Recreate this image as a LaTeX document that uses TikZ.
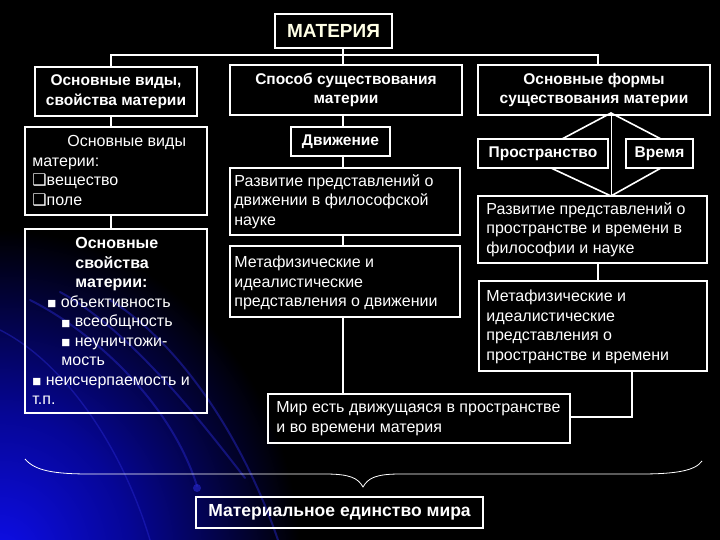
\documentclass[tikz,border=0pt]{standalone}
\usepackage{fontspec}
\setmainfont{Liberation Sans}
\newfontfamily\dejavu{DejaVu Sans}
\usetikzlibrary{calc}
\definecolor{glow}{RGB}{14,14,235}
\definecolor{glowmid}{RGB}{6,6,150}
\definecolor{streak}{RGB}{40,40,210}
\definecolor{cream}{RGB}{255,255,230}
\pgfdeclareradialshading{blueglow}{\pgfpoint{0bp}{0bp}}{color(0bp)=(glow); color(11bp)=(glowmid); color(25bp)=(black); color(50bp)=(black)}
\newcommand{\bul}{{\dejavu\fontsize{9.5}{9.5}\selectfont\raisebox{0.5pt}{■}}}
\newcommand{\hsq}{{\dejavu\fontsize{16}{16}\selectfont ❑}}
\begin{document}
\begin{tikzpicture}[x=1pt,y=-1pt,
  box/.style={draw=white,line width=1.6pt,inner sep=0pt,text=white},
  ln/.style={draw=white,line width=1.6pt},
  thin/.style={draw=white,line width=0.8pt},
  bt/.style={font=\fontsize{15.5}{19.5}\selectfont\bfseries,align=center},
  rt/.style={font=\fontsize{16}{19.5}\selectfont,text=white,align=left,inner sep=0pt,anchor=west},
  st/.style={draw=streak,line width=2pt,opacity=0.45,line cap=round}]
\useasboundingbox (0,0) rectangle (720,540);
\fill[black] (0,0) rectangle (720,540);
\begin{scope}
  \clip (0,0) rectangle (720,540);
  \shade[shading=blueglow] (0,560) ellipse [x radius=300, y radius=330];
  \draw[st] (30,300) .. controls (90,330) and (170,400) .. (197,486);
  \fill[streak,opacity=0.6] (197,488) circle [radius=4];
  \draw[st] (60,292) .. controls (130,330) and (200,420) .. (245,478);
  \draw[st] (110,300) .. controls (175,340) and (240,430) .. (278,540);
  \draw[st,line width=1.4pt] (0,330) .. controls (60,360) and (120,440) .. (150,540);
\end{scope}

% boxes
\node[box,bt,text=cream,font=\fontsize{19}{21}\selectfont\bfseries,minimum width=117,minimum height=34] (mat) at (333.5,31) {МАТЕРИЯ};
\node[box,bt,minimum width=162,minimum height=49] (vid) at (116,91.5) {Основные виды,\\свойства материи};
\node[box,bt,minimum width=232,minimum height=50] (spos) at (346,90) {Способ существования\\материи};
\node[box,bt,minimum width=232,minimum height=50] (form) at (594,90) {Основные формы\\существования материи};

\node[box,minimum width=182,minimum height=88] (vidmat) at (116,171) {};
\node[rt] (vidmat-t) at ($(vidmat.west)+(8,0)$) {\hspace*{35pt}Основные виды\\материи:\\\hsq вещество\\\hsq поле};

\node[box,minimum width=182,minimum height=184] (svoj) at (116,321) {};
\node[rt] (svoj-t) at ($(svoj.west)+(8,0)$) {\hspace*{43pt}\textbf{Основные}\\\hspace*{43pt}\textbf{свойства}\\\hspace*{43pt}\textbf{материи:}\\\hspace*{15pt}\bul\ объективность\\\hspace*{29pt}\bul\ всеобщность\\\hspace*{29pt}\bul\ неуничтожи-\\\hspace*{29pt}мость\\\bul\ неисчерпаемость и\\т.п.};

\node[box,bt,minimum width=99,minimum height=29] (dv) at (340.5,141.5) {Движение};
\node[box,minimum width=230,minimum height=67] (razv1) at (345,201.5) {};
\node[rt] (razv1-t) at ($(razv1.west)+(5,0)$) {Развитие представлений о\\движении в философской\\науке};
\node[box,minimum width=230,minimum height=71] (meta1) at (345,281.5) {};
\node[rt] (meta1-t) at ($(meta1.west)+(5,1.5)$) {Метафизические и\\идеалистические\\представления о движении};

\node[box,bt,minimum width=130,minimum height=29] (pr) at (543,153.5) {Пространство};
\node[box,bt,minimum width=67,minimum height=29] (vr) at (659.5,153.5) {Время};
\node[box,minimum width=229,minimum height=67] (razv2) at (592.5,229.5) {};
\node[rt] (razv2-t) at ($(razv2.west)+(9,0)$) {Развитие представлений о\\пространстве и времени в\\философии и науке};
\node[box,minimum width=228,minimum height=90] (meta2) at (593,326) {};
\node[rt] (meta2-t) at ($(meta2.west)+(8,1)$) {Метафизические и\\идеалистические\\представления о\\пространстве и времени};

\node[box,minimum width=302,minimum height=49] (mir) at (419,418.5) {};
\node[rt] (mir-t) at ($(mir.west)+(9,0)$) {Мир есть движущаяся в пространстве\\и во времени материя};

\node[box,bt,font=\fontsize{17.5}{20}\selectfont\bfseries,minimum width=287,minimum height=31] (edin) at (339.5,512.5) {Материальное единство мира};

% connectors
\coordinate (jL) at (111,55);
\coordinate (jM) at (343,55);
\coordinate (jR) at (598,55);
\draw[ln] (jM |- mat.south) -- (jM |- spos.north);
\draw[ln] (jL |- vid.north) -- (jL) -- (jR) -- (jR |- form.north);
\draw[ln] (jL |- vid.south) -- (jL |- vidmat.north);
\draw[ln] (jL |- vidmat.south) -- (jL |- svoj.north);
\draw[ln] (jM |- spos.south) -- (jM |- dv.north);
\draw[ln] (jM |- dv.south) -- (jM |- razv1.north);
\draw[ln] (jM |- razv1.south) -- (jM |- meta1.north);
\draw[ln] (jM |- meta1.south) -- (jM |- mir.north);

\coordinate (dT) at (611,113);
\coordinate (dB) at (611,196);
\coordinate (dPT) at (562,139);
\coordinate (dVT) at (661,139);
\coordinate (dPB) at (551,168);
\coordinate (dVB) at (661,168);
\draw[ln] (dPT) -- (dT) -- (dVT);
\draw[ln] (dPB) -- (dB) -- (dVB);
\draw[thin] (dT) -- (dB);
\draw[ln] (jR |- razv2.south) -- (jR |- meta2.north);
\coordinate (jR2) at (632,417);
\draw[ln] (jR2 |- meta2.south) -- (jR2) -- (jR2 -| mir.east);

% brace
\coordinate (brL) at (25,459);
\coordinate (brT) at (363,487);
\coordinate (brR) at (702,461);
\draw[thin] (brL) .. controls (35,471) and (55,474) .. (90,474) -- (325,474) .. controls (350,474) and (358,478) .. (brT) .. controls (368,478) and (376,474) .. (400,474) -- (640,474) .. controls (675,474) and (695,471) .. (brR);
\end{tikzpicture}
\end{document}
